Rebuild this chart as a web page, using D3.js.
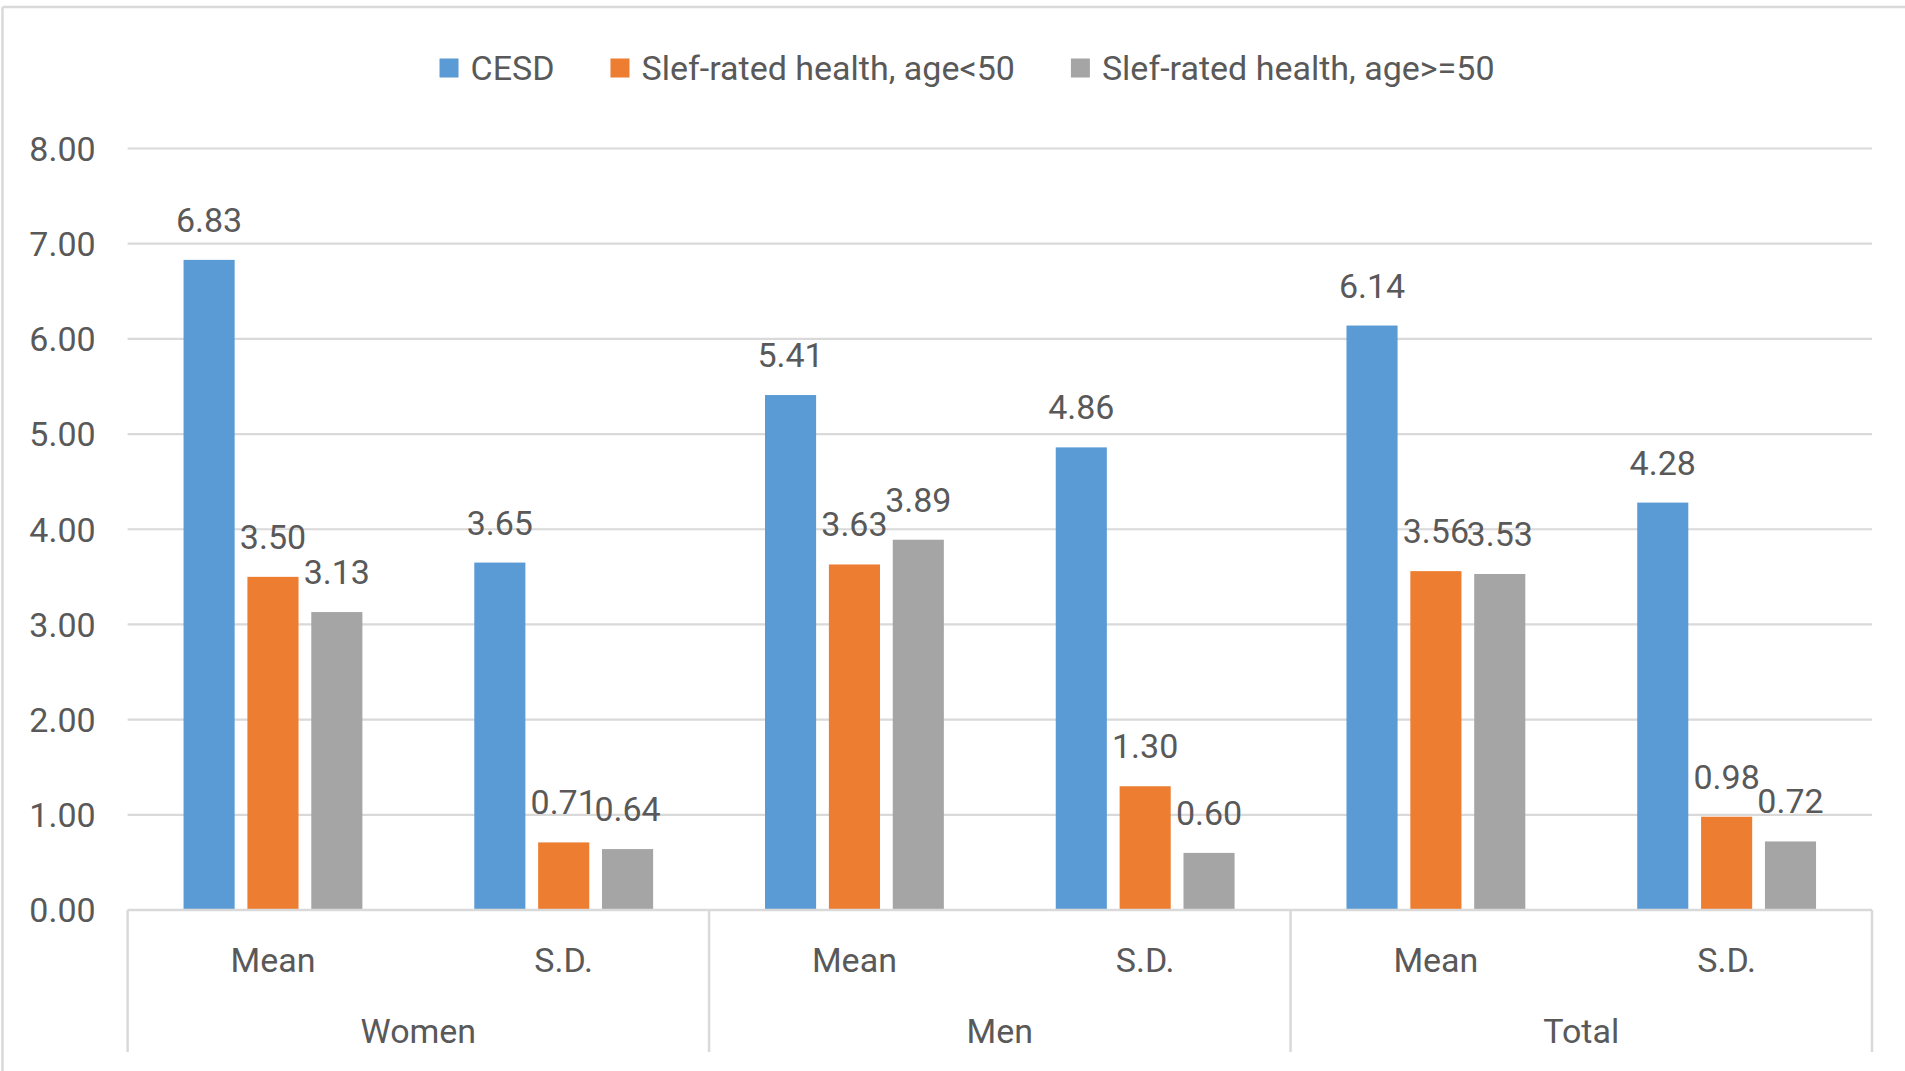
<!DOCTYPE html>
<html>
<head>
<meta charset="utf-8">
<script src="https://cdn.jsdelivr.net/npm/d3@7"></script>
<style>
  html, body { margin: 0; padding: 0; background: #ffffff; }
  svg { display: block; }
  text { font-family: Roboto, "Noto Sans", sans-serif; fill: #595959; }
</style>
</head>
<body>
<svg id="chart" width="1905" height="1071"></svg>
<script>
// Grouped categories (outer) and statistics (inner)
const groups = ["Women", "Men", "Total"];
const stats = ["Mean", "S.D."];
const seriesNames = ["CESD", "Slef-rated health, age<50", "Slef-rated health, age>=50"];
const seriesColors = ["#5b9bd5", "#ed7d31", "#a5a5a5"];

// Values per series, in order Women Mean, Women S.D., Men Mean, Men S.D., Total Mean, Total S.D.
const cesd = [6.83, 3.65, 5.41, 4.86, 6.14, 4.28];
const healthUnder50 = [3.50, 0.71, 3.63, 1.30, 3.56, 0.98];
const healthOver50 = [3.13, 0.64, 3.89, 0.60, 3.53, 0.72];

const yTicks = [0, 1, 2, 3, 4, 5, 6, 7, 8];

const series = [cesd, healthUnder50, healthOver50];
const slots = [];
groups.forEach(g => stats.forEach(s => slots.push(g + "|" + s)));

const svg = d3.select("#chart");
const W = 1905, H = 1071;
const plotLeft = 127.6, plotRight = 1872, plotTop = 148.5, plotBase = 910;
const fontSize = 34;
const fmt = d3.format(".2f");

// Outer chart frame (top and left edges fall inside the view)
svg.append("line").attr("x1", 2.5).attr("x2", W).attr("y1", 7).attr("y2", 7)
  .attr("stroke", "#d9d9d9").attr("stroke-width", 2.5);
svg.append("line").attr("x1", 2.5).attr("x2", 2.5).attr("y1", 7).attr("y2", H)
  .attr("stroke", "#d9d9d9").attr("stroke-width", 2.5);

const y = d3.scaleLinear().domain([0, 8]).range([plotBase, plotTop]);
const xSlot = d3.scaleBand().domain(slots).range([plotLeft, plotRight]).padding(0);
const xGroup = d3.scaleBand().domain(groups).range([plotLeft, plotRight]).padding(0);

// Bar geometry inside each slot: gap width 219%, overlap -25%
const B = xSlot.bandwidth();
const barW = B / (3 + 2 * 0.25 + 2.19);
const step = barW * 1.25;

// Gridlines
svg.append("g").selectAll("line").data(yTicks.filter(t => t > 0)).join("line")
  .attr("x1", plotLeft).attr("x2", plotRight)
  .attr("y1", d => y(d)).attr("y2", d => y(d))
  .attr("stroke", "#d9d9d9").attr("stroke-width", 2.2);

// Y axis labels
const yAxis = d3.axisLeft(y).tickValues(yTicks).tickFormat(fmt).tickSize(0).tickPadding(0);
const yg = svg.append("g").attr("transform", `translate(${plotLeft - 32},0)`).call(yAxis);
yg.select(".domain").remove();
yg.selectAll("text").attr("font-size", fontSize).attr("font-family", null)
  .attr("fill", "#595959").attr("dy", "0.35em");

// Bars and value labels
series.forEach((vals, si) => {
  const off = (si - 1) * step;
  svg.append("g").selectAll("rect").data(vals).join("rect")
    .attr("x", (d, i) => xSlot(slots[i]) + B / 2 + off - barW / 2)
    .attr("width", barW)
    .attr("y", d => y(d))
    .attr("height", d => plotBase - y(d))
    .attr("fill", seriesColors[si]);
  svg.append("g").selectAll("text").data(vals).join("text")
    .attr("x", (d, i) => xSlot(slots[i]) + B / 2 + off)
    .attr("y", d => y(d) - 28)
    .attr("text-anchor", "middle")
    .attr("font-size", fontSize)
    .text(d => fmt(d));
});

// Category axis: baseline and separators
const axisBottom = 1052;
svg.append("line").attr("x1", plotLeft).attr("x2", plotRight).attr("y1", plotBase).attr("y2", plotBase)
  .attr("stroke", "#d9d9d9").attr("stroke-width", 2.5);
const seps = groups.map(g => xGroup(g)).concat([plotRight]);
svg.append("g").selectAll("line").data(seps).join("line")
  .attr("x1", d => d).attr("x2", d => d).attr("y1", plotBase).attr("y2", axisBottom)
  .attr("stroke", "#d9d9d9").attr("stroke-width", 2.5);

// Inner category labels
svg.append("g").selectAll("text").data(slots).join("text")
  .attr("x", d => xSlot(d) + B / 2)
  .attr("y", 972)
  .attr("text-anchor", "middle")
  .attr("font-size", fontSize)
  .text(d => d.split("|")[1]);

// Outer category labels
svg.append("g").selectAll("text").data(groups).join("text")
  .attr("x", d => xGroup(d) + xGroup.bandwidth() / 2)
  .attr("y", 1043)
  .attr("text-anchor", "middle")
  .attr("font-size", fontSize)
  .text(d => d);

// Legend
const legend = svg.append("g");
const sq = 19, sqGap = 12, itemGap = 56;
let cx = 0;
seriesNames.forEach((name, i) => {
  const g = legend.append("g");
  g.append("rect").attr("x", 0).attr("y", -sq / 2).attr("width", sq).attr("height", sq)
    .attr("fill", seriesColors[i]);
  const t = g.append("text").attr("x", sq + sqGap).attr("y", 0).attr("dy", "0.35em")
    .attr("font-size", fontSize).text(name);
  const w = sq + sqGap + t.node().getComputedTextLength();
  g.attr("transform", `translate(${cx},0)`);
  cx += w + itemGap;
});
const legendW = cx - itemGap;
legend.attr("transform", `translate(${967 - legendW / 2},68)`);
</script>
</body>
</html>
